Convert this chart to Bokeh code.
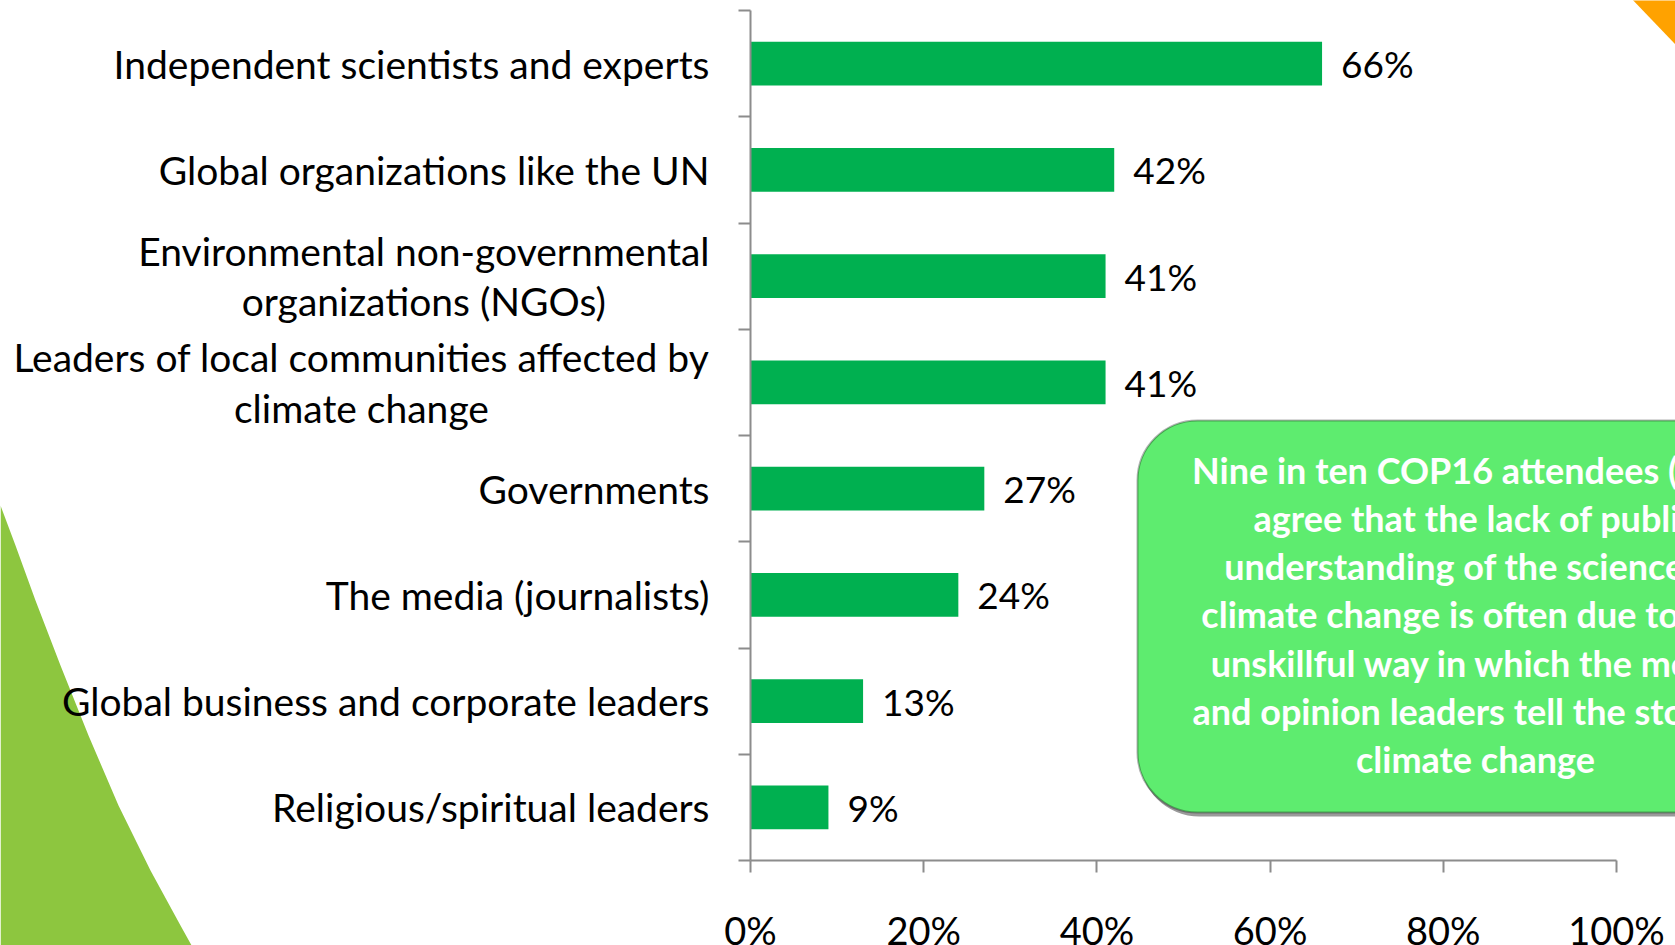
from bokeh.plotting import figure
from bokeh.models import Range1d, LinearAxis, FixedTicker, BoxAnnotation, ColumnDataSource
from bokeh.core.properties import value
from bokeh.embed import file_html
from bokeh.resources import INLINE

# ---------------- data ----------------
categories = [
    "Independent scientists and experts",
    "Global organizations like the UN",
    "Environmental non-governmental\norganizations (NGOs)",
    "Leaders of local communities affected by\nclimate change",
    "Governments",
    "The media (journalists)",
    "Global business and corporate leaders",
    "Religious/spiritual leaders",
]
values = [66, 42, 41, 41, 27, 24, 13, 9]
value_labels = ["66%", "42%", "41%", "41%", "27%", "24%", "13%", "9%"]
tick_values = [0, 20, 40, 60, 80, 100]
tick_labels = ["0%", "20%", "40%", "60%", "80%", "100%"]
callout_lines = [
    "Nine in ten COP16 attendees (90%)",
    "agree that the lack of public",
    "understanding of the science of",
    "climate change  is often due to the",
    "unskillful way in which the media",
    "and opinion leaders tell the story of",
    "climate change",
]

# ---------------- layout helpers (screen px -> data) ----------------
W, H = 1675, 945
OFF = 0
X0, PX_PCT = 750.0, 8.66
Y0, PX_BAND = 860.0, 106.25


def dx(sx):
    return (sx - X0) / PX_PCT


def dy(sy):
    return (Y0 - sy) / PX_BAND


n = len(categories)
centers = [n - 0.5 - i for i in range(n)]

p = figure(
    width=W, height=H,
    x_range=Range1d(dx(OFF), dx(OFF + W)),
    y_range=Range1d(dy(OFF + H), dy(OFF)),
    x_axis_type=None, y_axis_type=None,
    output_backend="svg", toolbar_location=None,
    min_border=0, outline_line_color=None,
)
p.grid.visible = False
p.background_fill_color = "white"
p.border_fill_color = "white"

# ---------------- slide decorations ----------------
green_sx = [0, 15, 35, 60, 88, 118, 150, 180, 205, 0]
green_sy = [505, 545, 600, 665, 735, 805, 870, 925, 970, 970]
p.patch([dx(v) for v in green_sx], [dy(v) for v in green_sy],
        fill_color="#8DC63F", line_color=None, level="image")
orange_sx = [1628, 1700, 1700]
orange_sy = [-5, -5, 70]
p.patch([dx(v) for v in orange_sx], [dy(v) for v in orange_sy],
        fill_color="#FFA200", line_color=None, level="image")

# ---------------- bars ----------------
src = ColumnDataSource(dict(y=centers, v=values, lab=value_labels, cat=categories,
                            lx=[v + 19 / PX_PCT for v in values]))
p.hbar(y="y", left=0, right="v", height=0.41, source=src,
       fill_color="#00B050", line_color=None)

p.text(x="lx", y="y", text="lab", source=src, text_font=value("Lato"),
       text_font_size="37px", text_color="#000000",
       text_align="left", text_baseline="middle")

p.text(x=dx(709), y="y", text="cat", source=src, text_font=value("Lato"),
       text_font_size="39px", text_color="#000000",
       anchor=value("center_right"), text_align="center",
       text_line_height=1.10)

# ---------------- axes ----------------
yaxis = LinearAxis(fixed_location=0, bounds=(0, n),
                   ticker=FixedTicker(ticks=[], minor_ticks=list(range(n + 1))),
                   major_tick_line_color=None,
                   minor_tick_out=12, minor_tick_in=0,
                   minor_tick_line_color="#8C8C8C", minor_tick_line_width=2,
                   axis_line_color="#8C8C8C", axis_line_width=2)
p.add_layout(yaxis, "left")

xaxis = LinearAxis(fixed_location=0, bounds=(0, 100),
                   ticker=FixedTicker(ticks=tick_values),
                   major_label_overrides={t: l for t, l in zip(tick_values, tick_labels)},
                   major_tick_out=12, major_tick_in=0,
                   major_label_standoff=34,
                   major_label_text_font="Lato",
                   major_label_text_font_size="38px",
                   major_label_text_color="#000000",
                   axis_line_color="#8C8C8C", axis_line_width=2,
                   major_tick_line_color="#8C8C8C", major_tick_line_width=2,
                   minor_tick_line_color=None)
p.add_layout(xaxis, "below")

# ---------------- callout ----------------
shadow = BoxAnnotation(left=dx(1139), right=dx(1815), top=dy(424), bottom=dy(816),
                       fill_color="#9A9A9A", fill_alpha=1.0, line_color=None,
                       border_radius=60, level="underlay")
box = BoxAnnotation(left=dx(1137), right=dx(1813), top=dy(420), bottom=dy(812),
                    fill_color="#5EEC6F", fill_alpha=1.0, line_color="#000000",
                    line_width=2, border_radius=60, level="underlay")
p.add_layout(shadow)
p.add_layout(box)

p.text(x=[dx(1475)], y=[dy(614)], text=["\n".join(callout_lines)],
       text_font=value("Lato"), text_font_style="bold", text_font_size="36px",
       text_color="white", anchor=value("center"), text_align="center",
       text_line_height=1.095)

open("out.html", "w").write(file_html(p, INLINE))
